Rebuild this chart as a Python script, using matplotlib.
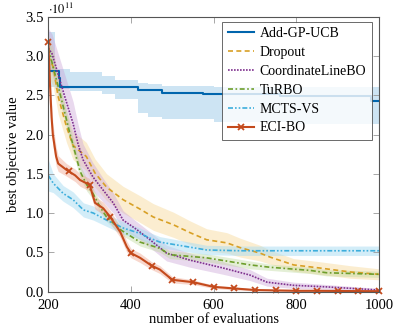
import numpy as np
import matplotlib
matplotlib.use("Agg")
import matplotlib.pyplot as plt

plt.rcParams['font.family'] = ['Liberation Serif', 'DejaVu Serif']
plt.rcParams['mathtext.fontset'] = 'stix'

# values in units of 1e11
gp_x = [200, 226, 228, 417, 475, 575, 760, 980, 1000]
gp_y = [2.81, 2.72, 2.60, 2.57, 2.53, 2.51, 2.49, 2.43, 2.43]
gp_band_x = [200, 217, 252, 329, 361, 417, 440, 475, 600, 800, 1000]
gp_hi = [3.31, 2.84, 2.80, 2.75, 2.70, 2.66, 2.64, 2.62, 2.61, 2.61, 2.61]
gp_lo = [2.60, 2.58, 2.56, 2.52, 2.45, 2.27, 2.22, 2.20, 2.16, 2.14, 2.14]

drop_x = [200, 212, 224, 244, 260, 292, 313, 341, 381, 422, 454, 503, 543, 583,
          632, 664, 712, 736, 793, 857, 930, 1000]
drop_y = [3.00, 2.86, 2.48, 2.10, 1.86, 1.72, 1.51, 1.33, 1.17, 1.05, 0.95, 0.85,
          0.75, 0.66, 0.62, 0.56, 0.49, 0.44, 0.34, 0.30, 0.25, 0.22]
drop_w = [0.25, 0.25, 0.22, 0.20, 0.18, 0.18, 0.18, 0.17, 0.17, 0.17, 0.17, 0.16,
          0.15, 0.14, 0.13, 0.12, 0.10, 0.09, 0.08, 0.08, 0.08, 0.07]

cl_x = [200, 209, 240, 260, 272, 284, 308, 333, 357, 381, 414, 446, 486, 543,
        623, 688, 729, 793, 873, 1000]
cl_y = [3.10, 3.03, 2.48, 2.14, 1.88, 1.68, 1.46, 1.29, 1.13, 0.91, 0.79, 0.66,
        0.49, 0.40, 0.30, 0.21, 0.12, 0.08, 0.06, 0.02]
cl_w = [0.25, 0.25, 0.28, 0.28, 0.25, 0.20, 0.18, 0.15, 0.13, 0.12, 0.10, 0.10,
        0.10, 0.09, 0.08, 0.07, 0.05, 0.04, 0.03, 0.02]

tu_x = [200, 228, 252, 277, 293, 308, 325, 341, 374, 422, 470, 494, 583, 688,
        736, 833, 873, 1000]
tu_y = [3.10, 2.53, 2.02, 1.53, 1.36, 1.25, 1.08, 0.95, 0.79, 0.63, 0.55, 0.47,
        0.43, 0.34, 0.31, 0.27, 0.24, 0.22]
tu_w = [0.15, 0.12, 0.10, 0.08, 0.08, 0.07, 0.07, 0.06, 0.06, 0.05, 0.05, 0.05,
        0.05, 0.05, 0.04, 0.04, 0.04, 0.04]

mc_x = [200, 212, 236, 260, 285, 309, 341, 381, 422, 446, 470, 583, 664, 1000]
mc_y = [1.48, 1.38, 1.25, 1.17, 1.04, 1.00, 0.91, 0.81, 0.74, 0.68, 0.63, 0.53,
        0.52, 0.52]
mc_w = [0.20, 0.12, 0.10, 0.10, 0.09, 0.09, 0.08, 0.08, 0.07, 0.07, 0.07, 0.06,
        0.06, 0.06]

eci_x = [200, 204, 208, 211, 219, 224, 244, 250, 265, 277, 300, 313, 333, 350,
         374, 390, 400, 422, 450, 470, 500, 550, 600, 650, 700, 750, 800, 850,
         900, 950, 1000]
eci_y = [3.18, 2.65, 2.22, 2.00, 1.72, 1.63, 1.55, 1.53, 1.48, 1.42, 1.36, 1.13,
         1.06, 0.95, 0.76, 0.57, 0.49, 0.43, 0.33, 0.28, 0.15, 0.12, 0.06, 0.04,
         0.02, 0.015, 0.01, 0.01, 0.008, 0.006, 0.005]
eci_w = [0.20, 0.20, 0.18, 0.15, 0.12, 0.10, 0.08, 0.08, 0.08, 0.08, 0.08, 0.08,
         0.08, 0.08, 0.07, 0.07, 0.06, 0.06, 0.05, 0.05, 0.04, 0.03, 0.02, 0.02,
         0.01, 0.01, 0.01, 0.01, 0.01, 0.01, 0.01]
eci_marks = [200, 250, 300, 350, 400, 450, 500, 550, 600, 650, 700, 750, 800,
             850, 900, 950, 1000]

c_gp = '#0065AD'
c_drop = '#D8A025'
c_cl = '#7E2F8E'
c_tu = '#6E9E2C'
c_mc = '#3DAEDC'
c_eci = '#C44A1C'

fig = plt.figure(figsize=(3.99, 3.28), dpi=100)
ax = fig.add_axes([0.121, 0.111, 0.829, 0.838])

def band(x, y, w, color, alpha):
    y = np.array(y)
    w = np.array(w)
    ax.fill_between(x, np.clip(y - w, 0, None), y + w, color=color, alpha=alpha, lw=0)

ax.fill_between(gp_band_x, gp_lo, gp_hi, color='#9ccbe8', alpha=0.5, lw=0, step='post')
band(drop_x, drop_y, drop_w, '#f5d48a', 0.4)
band(cl_x, cl_y, cl_w, '#c9a0d6', 0.4)
band(tu_x, tu_y, tu_w, '#bcd89a', 0.4)
band(mc_x, mc_y, mc_w, '#a8dcf3', 0.5)
band(eci_x, eci_y, eci_w, '#f0a890', 0.45)

lw = 1.2
ax.plot(gp_x, gp_y, color=c_gp, lw=1.5, drawstyle='steps-post', label='Add-GP-UCB')
ax.plot(drop_x, drop_y, color=c_drop, lw=lw, ls=(0, (3, 2)), label='Dropout')
ax.plot(cl_x, cl_y, color=c_cl, lw=lw, ls=(0, (1, 0.8)), label='CoordinateLineBO')
ax.plot(tu_x, tu_y, color=c_tu, lw=lw, ls=(0, (3, 1.5, 1, 1.5)), label='TuRBO')
ax.plot(mc_x, mc_y, color=c_mc, lw=lw, ls=(0, (3, 1.2, 1, 1.2, 1, 1.2)), label='MCTS-VS')
eci_line = np.interp(eci_marks, eci_x, eci_y)
ax.plot(eci_x, eci_y, color=c_eci, lw=1.5, label='_nolegend_')
ax.plot(eci_marks, eci_line, color=c_eci, lw=0, marker='x', ms=4, mew=1.3,
        label='_nolegend_', clip_on=False)
ax.plot([], [], color=c_eci, lw=1.5, marker='x', ms=4, mew=1.3, label='ECI-BO')

ax.set_xlim(200, 1000)
ax.set_ylim(0, 3.5)
ax.set_xticks([200, 400, 600, 800, 1000])
ax.set_yticks(np.arange(0, 3.51, 0.5))
ax.set_yticklabels([f'{v:.1f}' for v in np.arange(0, 3.51, 0.5)])
ax.tick_params(direction='in', top=True, right=True, length=4, width=0.6,
               color='#999999', labelsize=10.5)
ax.tick_params(axis='x', pad=5)
ax.tick_params(axis='y', pad=3)
for s in ax.spines.values():
    s.set_color('#555555')
    s.set_linewidth(0.8)

ax.set_xlabel('number of evaluations', fontsize=10.5, labelpad=1)
ax.set_ylabel('best objective value', fontsize=10.5, labelpad=4)
ax.text(0.0, 1.0, r'$\cdot10^{11}$', transform=ax.transAxes, fontsize=9,
        ha='left', va='bottom')

leg = ax.legend(loc='upper right', fontsize=10, frameon=True, fancybox=False,
                handlelength=1.9, handletextpad=0.4, borderpad=0.4,
                labelspacing=0.42, borderaxespad=0, bbox_to_anchor=(0.978, 0.982))
leg.get_frame().set_edgecolor('#444444')
leg.get_frame().set_linewidth(0.7)

fig.savefig('out.png', dpi=100)
